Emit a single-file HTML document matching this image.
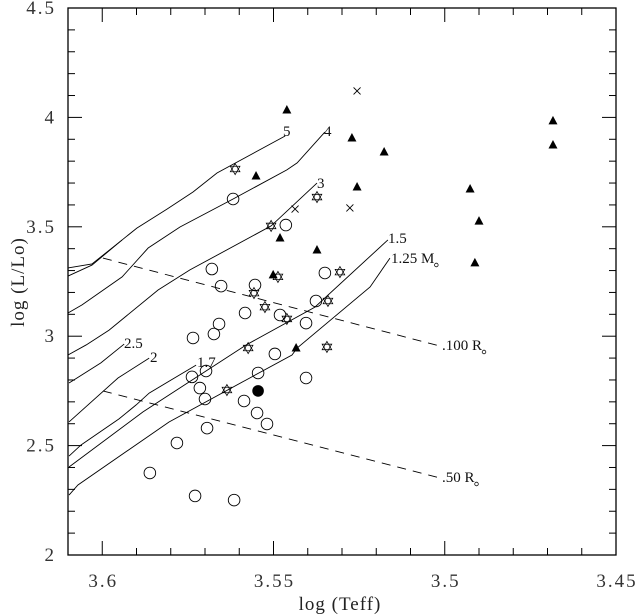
<!DOCTYPE html>
<html><head><meta charset="utf-8"><style>
body{margin:0;background:#fff}
svg{display:block;font-family:"Liberation Serif",serif}
</style></head><body>
<svg id="c" width="639" height="615" viewBox="0 0 639 615"></svg>
<script>
const circT=[3.5618,3.5464,3.568,3.5653,3.5554,3.5583,3.5481,3.535,3.5376,3.5405,3.5659,3.5674,3.5735,3.5496,3.5697,3.5738,3.5545,3.5715,3.57,3.5586,3.5405,3.5548,3.5519,3.5694,3.5782,3.5861,3.5729,3.5615];
const circL=[3.627,3.508,3.307,3.229,3.234,3.106,3.097,3.289,3.161,3.06,3.056,3.01,2.992,2.919,2.841,2.814,2.832,2.763,2.713,2.704,2.809,2.649,2.599,2.58,2.512,2.375,2.27,2.251];
const filledT=[3.5545];
const filledL=[2.75];
const starT=[3.5612,3.5507,3.5373,3.5487,3.5306,3.5557,3.5525,3.5461,3.5341,3.5574,3.5344,3.5636];
const starL=[3.764,3.504,3.636,3.271,3.293,3.197,3.133,3.079,3.161,2.946,2.951,2.754];
const triT=[3.5461,3.5551,3.5271,3.5177,3.5256,3.5481,3.5373,3.5501,3.5434,3.4926,3.49,3.4912,3.4684,3.4684];
const triL=[4.034,3.732,3.906,3.842,3.682,3.449,3.394,3.28,2.946,3.673,3.526,3.335,3.984,3.874];
const crossT=[3.5256,3.5277,3.5437];
const crossL=[4.121,3.586,3.581];
const trackNames=["5","loop","4","3","2.5","2","1.7","1.5","1.25"];
const trackT=[[3.61,3.603,3.5942,3.5899,3.5811,3.5735,3.5665,3.5466],[3.61,3.603,3.5942],[3.61,3.6059,3.5942,3.5866,3.5773,3.5618,3.5461,3.5431,3.535],[3.61,3.6047,3.598,3.5837,3.5744,3.5507,3.5373],[3.6097,3.6004,3.5936],[3.6097,3.5954,3.5863],[3.6097,3.6062,3.5951,3.5901,3.5863,3.5726],[3.6097,3.5881,3.558,3.5379,3.5166],[3.6097,3.6071,3.5805,3.558,3.5446,3.5431,3.5218,3.516]];
const trackL=[[3.312,3.33,3.44,3.494,3.581,3.659,3.746,3.915],[3.275,3.325,3.44],[3.106,3.143,3.271,3.403,3.499,3.627,3.76,3.792,3.933],[2.914,2.96,3.028,3.211,3.303,3.504,3.7],[2.786,2.878,2.964],[2.608,2.809,2.9],[2.452,2.503,2.622,2.686,2.74,2.868],[2.402,2.654,2.96,3.133,3.44],[2.274,2.32,2.608,2.8,2.914,2.946,3.225,3.357]];
const radNames=["100","50"];
const radT=[[3.5998,3.5014],[3.5998,3.5014]];
const radL=[[3.357,2.955],[2.75,2.352]];
const xTicks=["3.6","3.55","3.5","3.45"];
const yTicks=["2","2.5","3","3.5","4","4.5"];

const X0=68,X1=616,Y0=555,Y1=8,TMAX=3.61,TMIN=3.45,LMIN=2,LMAX=4.5;
const xs=t=>X0+(TMAX-t)/(TMAX-TMIN)*(X1-X0);
const ys=l=>Y0-(l-LMIN)/(LMAX-LMIN)*(Y0-Y1);
const svg=document.getElementById('c');
const NS="http://www.w3.org/2000/svg";
function mk(tag,at,parent){const e=document.createElementNS(NS,tag);for(const k in at)e.setAttribute(k,at[k]);(parent||svg).appendChild(e);return e;}

let fr=mk('rect',{x:X0,y:Y1,width:X1-X0,height:Y0-Y1,fill:'none',stroke:'#000','stroke-width':1.3});


for(let i=0;i<=16;i++){const t=3.61-i*0.01;const x=xs(t);const maj=(i%5==1);const len=maj?14:7;
 let a=mk('line',{x1:x,y1:Y0,x2:x,y2:Y0-len,stroke:'#000','stroke-width':1});
 
 
 let b=mk('line',{x1:x,y1:Y1,x2:x,y2:Y1+len,stroke:'#000','stroke-width':1});
 
 }
xTicks.forEach(s=>{let t=mk('text',{x:xs(parseFloat(s))+1,y:587,'text-anchor':'middle','font-size':19,'letter-spacing':2,fill:'#333'});t.textContent=s;
 
 });
for(let i=0;i<=25;i++){const l=2+i*0.1;const y=ys(l);const len=(i%5==0)?14:7;
 let a=mk('line',{x1:X0,y1:y,x2:X0+len,y2:y,stroke:'#000','stroke-width':1});
 
 
 let b=mk('line',{x1:X1,y1:y,x2:X1-len,y2:y,stroke:'#000','stroke-width':1});
 
 }
yTicks.forEach(s=>{let t=mk('text',{x:56,y:ys(parseFloat(s))+6,'text-anchor':'end','font-size':19,'letter-spacing':2,fill:'#333'});t.textContent=s;
 
 });
let xt=mk('text',{x:340,y:610,'text-anchor':'middle','font-size':19,'letter-spacing':1,fill:'#222'});xt.textContent='log (Teff)';


let yt=mk('text',{x:0,y:0,'text-anchor':'middle','font-size':19,'letter-spacing':1,fill:'#222',transform:'translate(24,282) rotate(-90)'});yt.textContent='log (L/Lo)';



trackT.forEach((tt,i)=>{const pts=tt.map((t,j)=>xs(t)+','+ys(trackL[i][j])).join(' ');
 let p=mk('polyline',{points:pts,fill:'none',stroke:'#000','stroke-width':0.9});
 
 });
radT.forEach((tt,i)=>{let p=mk('line',{x1:xs(tt[0]),y1:ys(radL[i][0]),x2:xs(tt[1]),y2:ys(radL[i][1]),stroke:'#000','stroke-width':0.9,'stroke-dasharray':'9,7'});
 
 });
const labs=[["5",283,136],["4",324,136],["3",317,188],["2.5",124,348],["2",150,362],["1.7",197,367],["1.5",388,243],["1.25  M",391,263],[".100  R",442,350],[".50  R",442,482]];
labs.forEach(a=>{let t=mk('text',{x:a[1],y:a[2],'font-size':15,fill:'#111','xml:space':'preserve'});t.textContent=a[0];
 
 
 if(a[0].endsWith('M')||a[0].endsWith('R')){const bb=t.getBBox();mk('circle',{cx:bb.x+bb.width+2,cy:a[2]+2,r:1.8,fill:'none',stroke:'#111','stroke-width':0.8});}});

circT.forEach((t,i)=>{let c=mk('circle',{cx:xs(t),cy:ys(circL[i]),r:5.8,fill:'none',stroke:'#000','stroke-width':0.9});
 
 });
filledT.forEach((t,i)=>{let c=mk('circle',{cx:xs(t),cy:ys(filledL[i]),r:5.8,fill:'#000'});
 
 });
starT.forEach((t,i)=>{const x=xs(t),y=ys(starL[i]),r=5.5;
 const tri=(o)=>[0,1,2].map(k=>{const a=o+k*2*Math.PI/3;return (x+r*Math.sin(a))+','+(y-r*Math.cos(a));}).join(' ');
 let s=mk('polygon',{points:tri(0),fill:'none',stroke:'#000','stroke-width':0.8});
 
 
 mk('polygon',{points:tri(Math.PI),fill:'none',stroke:'#000','stroke-width':0.8});});
triT.forEach((t,i)=>{const x=xs(t),y=ys(triL[i]);
 let p=mk('polygon',{points:`${x},${y-5} ${x-4.5},${y+3.5} ${x+4.5},${y+3.5}`,fill:'#000'});
 
 });
crossT.forEach((t,i)=>{const x=xs(t),y=ys(crossL[i]);
 let p=mk('path',{d:`M${x-3.5},${y-3.5}L${x+3.5},${y+3.5}M${x+3.5},${y-3.5}L${x-3.5},${y+3.5}`,stroke:'#000','stroke-width':0.9});
 
 });
</script>
</body></html>
